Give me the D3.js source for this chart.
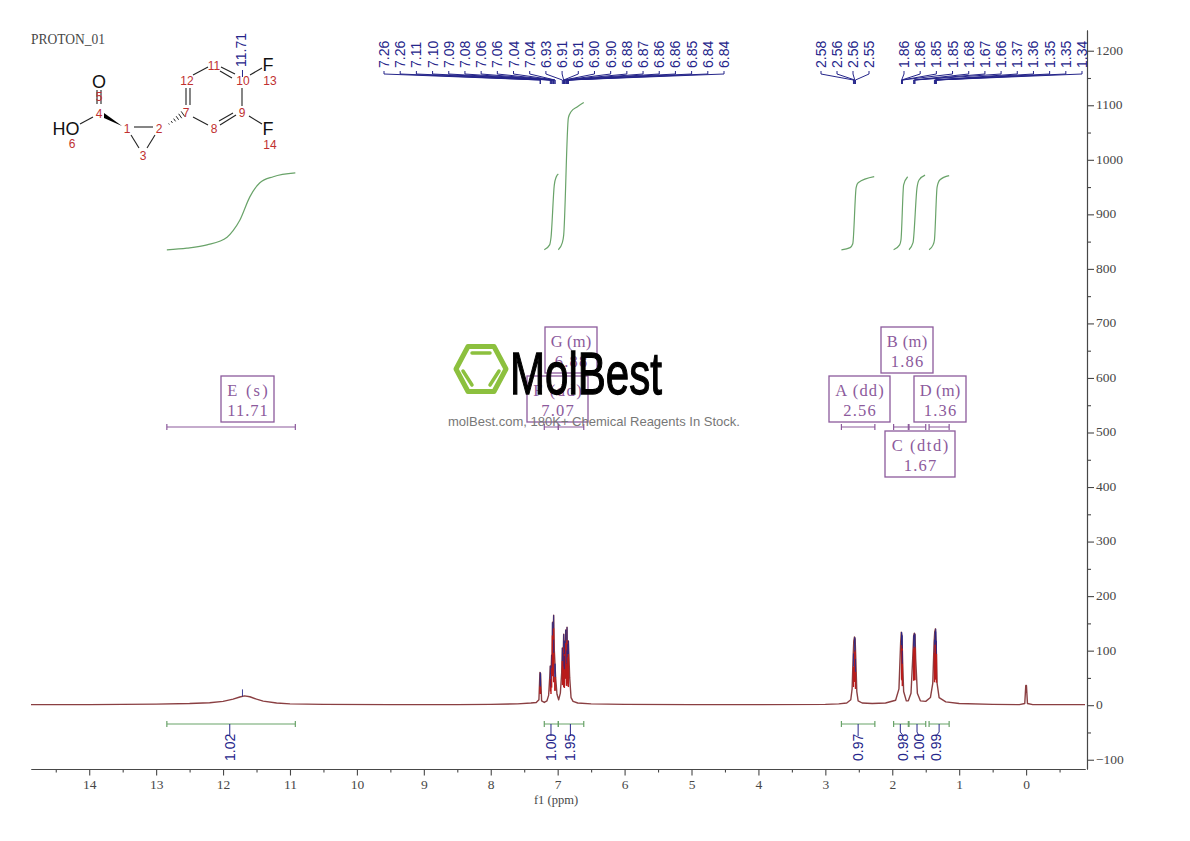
<!DOCTYPE html>
<html><head><meta charset="utf-8">
<script src="https://cdnjs.cloudflare.com/ajax/libs/d3/7.8.5/d3.min.js"></script>
<style>html,body{margin:0;padding:0;background:#fff}svg{display:block}</style>
</head><body><div id="c"></div>
<script>
// ---------- spectrum (ppm, intensity)
const specPpm = [14.87,14,13.5,13,12.5,12.2,12,11.85,11.75,11.68,11.6,11.5,11.4,11.2,11,10.5,9.5,8.5,8,7.6,7.4,7.32,7.28,7.265,7.255,7.24,7.2,7.16,7.135,7.12,7.11,7.10,7.09,7.085,7.075,7.07,7.06,7.05,7.04,7.03,7.01,6.985,6.96,6.94,6.93,6.92,6.91,6.905,6.90,6.89,6.88,6.875,6.87,6.865,6.86,6.855,6.85,6.845,6.84,6.82,6.80,6.77,6.7,6.5,6,5,4,3,2.8,2.68,2.62,2.60,2.585,2.575,2.565,2.555,2.545,2.53,2.51,2.45,2.3,2.1,1.95,1.90,1.875,1.865,1.855,1.845,1.83,1.79,1.76,1.72,1.695,1.68,1.67,1.66,1.65,1.625,1.58,1.5,1.43,1.395,1.375,1.365,1.355,1.345,1.33,1.30,1.2,1,0.5,0.1,0.02,0.005,-0.005,-0.02,-0.1,-0.88];
const specInt = [1,1,1.5,2,3,4.5,7,11,15,17,15.5,11,7.5,4,2.5,1.5,1,1,1.5,2.5,4,5,10,60,58,8,5,8,18,48,72,58,92,75,152,120,165,100,76,50,20,10,22,60,105,82,130,95,118,90,138,95,102,100,143,95,112,95,118,50,14,7,4,2.5,1.5,1,1,1.5,2.5,4,10,30,88,118,125,122,85,25,8,4,3,4,9,30,115,134,128,80,25,8,8,22,85,128,132,130,85,22,8,7,14,40,115,135,140,118,40,14,6,3,1.5,1,3,36,36,3,1,1];

// ---------- peak picks
const picksA = [7.26,7.26,7.11,7.10,7.09,7.08,7.06,7.06,7.04,7.04,6.93,6.91,6.91,6.90,6.90,6.88,6.87,6.86,6.86,6.85,6.84,6.84];
const picksAInt = [60,58,72,58,92,152,165,120,76,76,105,130,95,118,90,138,102,143,100,112,95,118];
const picksB = [2.58,2.56,2.56,2.55];
const picksBInt = [95,125,122,85];
const picksC = [1.86,1.86,1.85,1.85,1.68,1.67,1.66,1.37,1.36,1.35,1.35,1.34];
const picksCInt = [134,134,128,100,128,132,130,120,135,140,135,118];
const pickBroad = [11.71];
const pickBroadInt = [29];

// ---------- multiplet assignments and integrals
const assignNames = ["E (s)","F (dd)","G (m)","A (dd)","B (m)","C (dtd)","D (m)"];
const assignShifts = ["11.71","7.07","6.88","2.56","1.86","1.67","1.36"];
const rangeFrom = [12.84,7.20,6.99,2.76,1.98,1.75,1.45];
const rangeTo = [10.92,6.99,6.61,2.26,1.76,1.50,1.15];
const integralValues = ["1.02","1.00","1.95","0.97","0.98","1.00","0.99"];
const integralCenters = [11.90,7.10,6.81,2.51,1.88,1.63,1.30];
const curvePpm = [
 [12.84,12.54,12.24,11.94,11.85,11.75,11.60,11.45,11.25,10.92],
 [7.20,7.12,7.10,7.05,7.02,6.99],
 [6.99,6.93,6.91,6.84,6.80,6.71,6.61],
 [2.76,2.63,2.59,2.54,2.51,2.27],
 [1.98,1.89,1.87,1.83,1.77],
 [1.75,1.69,1.63,1.60,1.51],
 [1.45,1.39,1.37,1.33,1.29,1.15]];
const curveVal = [
 [835,838,844,858,870,889,932,958,969,976],
 [835,844,857,954,969,974],
 [835,848,862,1077,1088,1097,1105],
 [835,839,846,949,958,969],
 [835,844,853,954,969],
 [835,848,949,963,972],
 [835,844,853,950,963,971]];

// ---------- axis ticks
const xMajor = d3.range(0,15);
const xMinor = d3.range(-0.5,15,1);
const yMajor = d3.range(-100,1201,100);
const yMinor = d3.range(-50,1201,100);

// ---------- page layout (not data)
const W=1190,H=841;
const boxes = [[221,376,53,46],[527,376,61,46],[545,327,52,46],[829,376,61,46],[881,327,52,46],[885,431,70,46],[914,376,52,46]];
const labelOffset = [0,0,0,0,3,2,-3];
const navy="#25258a", green="#69a369", purple="#8c5a9c", grey="#474747";

const svg=d3.select("#c").append("svg").attr("width",W).attr("height",H).attr("viewBox",[0,0,W,H]);
svg.append("rect").attr("width",W).attr("height",H).attr("fill","#fff");
const x=d3.scaleLinear().domain([14.87,-0.88]).range([31,1085]);
const y=d3.scaleLinear().domain([-117,1238]).range([769,30]);

// axes
const serif='"Liberation Serif",serif';
const ax=svg.append("g").attr("transform","translate(0,769)");
ax.call(d3.axisBottom(x).tickValues(xMinor).tickSize(3.5).tickFormat("").tickSizeOuter(0));
const ax2=svg.append("g").attr("transform","translate(0,769)");
ax2.call(d3.axisBottom(x).tickValues(xMajor).tickSize(6.5).tickFormat(d3.format("d")).tickSizeOuter(0));
ax2.selectAll("text").attr("font-family",serif).attr("font-size",13.5).attr("fill",grey).attr("dy","0.62em").attr("y",12);
const ay=svg.append("g").attr("transform","translate(1087,0)");
ay.call(d3.axisRight(y).tickValues(yMinor).tickSize(4).tickFormat("").tickSizeOuter(0));
const ay2=svg.append("g").attr("transform","translate(1087,0)");
ay2.call(d3.axisRight(y).tickValues(yMajor).tickSize(7).tickFormat(d3.format("d")).tickSizeOuter(0));
ay2.selectAll("text").attr("font-family",serif).attr("font-size",13.5).attr("fill",grey).attr("x",9).attr("dy","0.25em");
svg.selectAll(".domain,.tick line").attr("stroke",grey).attr("stroke-width",1.1);
svg.append("text").attr("x",556).attr("y",804).attr("text-anchor","middle").attr("font-family",serif).attr("font-size",12.5).attr("fill",grey).text("f1 (ppm)");
svg.append("text").attr("x",31).attr("y",44).attr("font-family",serif).attr("font-size",15).attr("fill",grey).attr("textLength",74).attr("lengthAdjust","spacingAndGlyphs").text("PROTON_01");

// integral curves
const curveLine=d3.line().x(d=>x(d[0])).y(d=>y(d[1])).curve(d3.curveMonotoneX);
curvePpm.forEach((p,i)=>{
  svg.append("path").attr("d",curveLine(p.map((v,j)=>[v,curveVal[i][j]]))).attr("fill","none").attr("stroke",green).attr("stroke-width",1.2);
});

// spectrum
const specLine=d3.line().x(d=>x(d[0])).y(d=>y(d[1]));
svg.append("path").attr("d",specLine(specPpm.map((v,i)=>[v,specInt[i]]))).attr("fill","none").attr("stroke","#8a3f42").attr("stroke-width",1.4).attr("stroke-linejoin","round");

// peak ticks in the spectrum: red core, navy cap
function apexTicks(pp,ii,len,core){
  pp.forEach((p,i)=>{
    if(core) svg.append("line").attr("x1",x(p)).attr("x2",x(p)).attr("y1",y(ii[i]-len)).attr("y2",y(ii[i]*0.35)).attr("stroke","#b81c1c").attr("stroke-width",1.4);
    svg.append("line").attr("x1",x(p)).attr("x2",x(p)).attr("y1",y(ii[i])).attr("y2",y(ii[i]-len)).attr("stroke",navy).attr("stroke-width",1).attr("opacity",0.85);
  });
}
apexTicks(picksA,picksAInt,24,true);
apexTicks(picksB,picksBInt,24,true);
apexTicks(picksC,picksCInt,24,true);
apexTicks(pickBroad,pickBroadInt,13,false);

// pick labels with leader lines
const sans='"Liberation Sans",Arial,sans-serif';
function vText(px,bottom,t,fs,fill){
  svg.append("text").attr("transform",`translate(${px+5},${bottom}) rotate(-90)`).attr("font-family",sans).attr("font-size",fs).attr("fill",fill).text(t);
}
function pickGroup(pp,x0,x1){
  const s=d3.scalePoint().domain(d3.range(pp.length)).range([x0,x1]);
  pp.forEach((p,i)=>{
    const lx=s(i),tx=x(p);
    svg.append("path").attr("d",`M${lx},71V74L${tx},80V84`).attr("fill","none").attr("stroke",navy).attr("stroke-width",1);
    vText(lx,68,p.toFixed(2),14,navy);
  });
}
pickGroup(picksA,384,724);
pickGroup(picksB,821,869);
pickGroup(picksC,904,1082);
// 11.71 label
vText(x(pickBroad[0])-1,67,"11.71",14,navy);
svg.append("line").attr("x1",x(pickBroad[0])).attr("x2",x(pickBroad[0])).attr("y1",70).attr("y2",77).attr("stroke",navy);

// brackets: purple (above) and green (below), integral value labels
assignNames.forEach((n,i)=>{
  const a=x(rangeFrom[i]),b=x(rangeTo[i]);
  [[427,purple],[724,green]].forEach(([yy,c])=>{
    svg.append("path").attr("d",`M${a},${yy-3}V${yy+3}M${a},${yy}H${b}M${b},${yy-3}V${yy+3}`).attr("fill","none").attr("stroke",c).attr("stroke-width",1.2);
  });
  const tx=x(integralCenters[i]),lx=tx+labelOffset[i];
  svg.append("path").attr("d",`M${tx},724V732L${lx},736`).attr("fill","none").attr("stroke",navy).attr("stroke-width",1);
  vText(lx,761,integralValues[i],14,navy);
  // assignment box
  const [bx,by,bw,bh]=boxes[i];
  svg.append("rect").attr("x",bx).attr("y",by).attr("width",bw).attr("height",bh).attr("fill","none").attr("stroke",purple).attr("stroke-width",1.3);
  [[n,19.5],[assignShifts[i],39.5]].forEach(([t,dy])=>{
    svg.append("text").attr("x",bx+bw/2).attr("y",by+dy).attr("text-anchor","middle").attr("font-family",serif).attr("font-size",16.5).attr("fill",purple)
      .attr("textLength",t.length*8.1).attr("lengthAdjust","spacing").text(t);
  });
});

// molecule
const mol=svg.append("g");
const bonds=[[134,127,153,127],[131,135,139,148],[155,135,147,148],[93,117,80,124],[97,90,97,104],[101,90,101,104],
 [186,105,186,88],[190,105,190,88],[193,117,208,125],[220,125,236,115],[219,121,233,113],[242,106,242,88],
 [235,74,221,67],[232,78,220,71],[208,67,193,75],[250,75,262,68],[249,116,262,124]];
bonds.forEach(b=>mol.append("line").attr("x1",b[0]).attr("y1",b[1]).attr("x2",b[2]).attr("y2",b[3]).attr("stroke","#222").attr("stroke-width",1.1));
mol.append("path").attr("d","M104,113L104,118L122,126Z").attr("fill","#000");
d3.range(0,6).forEach(i=>{const t=i/5,cx=169+t*14,cy=124-t*10,l=0.6+t*2.6;
  mol.append("line").attr("x1",cx-l*0.57).attr("y1",cy-l*0.82).attr("x2",cx+l*0.57).attr("y2",cy+l*0.82).attr("stroke","#222").attr("stroke-width",1);});
[["O",99,82],["HO",66,129],["F",268,65],["F",268,129]].forEach(d=>mol.append("text").attr("x",d[1]).attr("y",d[2]).attr("dy","0.36em").attr("text-anchor","middle").attr("font-family",sans).attr("font-size",18).attr("fill","#111").text(d[0]));
[["1",127,129],["2",159,129],["3",143,156],["4",99,114],["5",99,97],["6",72,144],["7",186,113],["8",214,129],["9",242,113],["10",243,81],["11",214,66],["12",187,81],["13",270,81],["14",270,145]]
 .forEach(d=>mol.append("text").attr("x",d[1]).attr("y",d[2]).attr("dy","0.36em").attr("text-anchor","middle").attr("font-family",sans).attr("font-size",12).attr("fill","#c03030").text(d[0]));

// watermark
const wm=svg.append("g");
wm.append("path").attr("d","M468,346.5H494L506,369L494,391.5H468L456,369Z").attr("fill","none").attr("stroke","#8cc03e").attr("stroke-width",5).attr("stroke-linejoin","round");
[[472,353,490,353],[463,371,472,385],[499,371,490,385]].forEach(b=>wm.append("line").attr("x1",b[0]).attr("y1",b[1]).attr("x2",b[2]).attr("y2",b[3]).attr("stroke","#8cc03e").attr("stroke-width",3.5).attr("stroke-linecap","round"));
wm.append("text").attr("x",510).attr("y",394).attr("font-family",sans).attr("font-size",60).attr("fill","#000").attr("stroke","#000").attr("stroke-width",1.3).attr("textLength",152).attr("lengthAdjust","spacingAndGlyphs").text("MolBest");
wm.append("text").attr("x",448).attr("y",426).attr("font-family",sans).attr("font-size",13.4).attr("fill","#777").attr("textLength",292).attr("lengthAdjust","spacingAndGlyphs").text("molBest.com, 180K+ Chemical Reagents In Stock.");
</script></body></html>
